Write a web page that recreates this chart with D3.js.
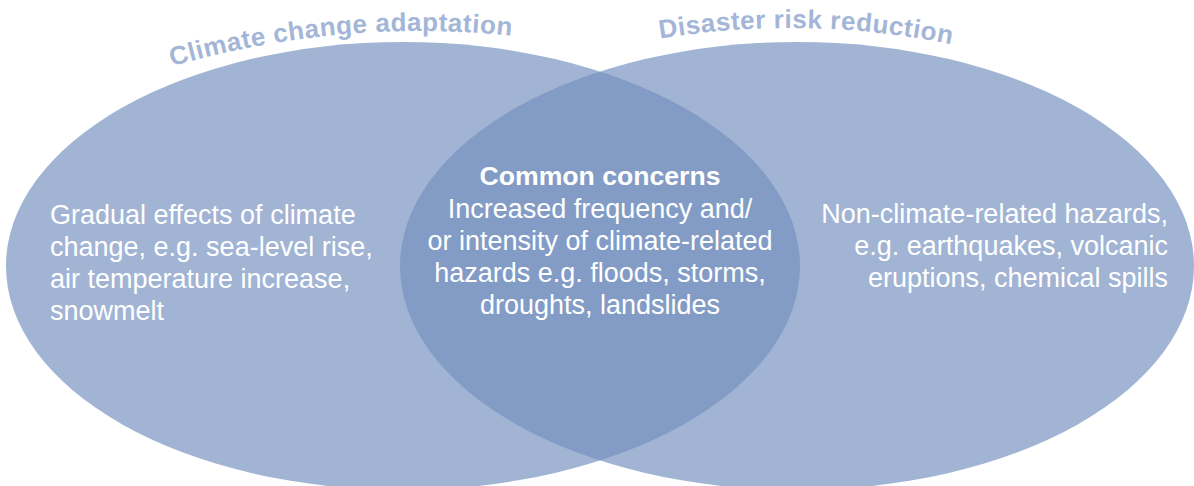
<!DOCTYPE html>
<html>
<head>
<meta charset="utf-8">
<script src="https://cdn.jsdelivr.net/npm/d3@7"></script>
<style>
  html, body { margin: 0; padding: 0; background: #fff; }
  svg { display: block; }
</style>
</head>
<body>
<script>
// sets of the venn, left to right
var setNames = ['Climate change adaptation', 'Disaster risk reduction'];
var setLines = [
    ['Gradual effects of climate', 'change, e.g. sea-level rise,', 'air temperature increase,', 'snowmelt'],
    ['Non-climate-related hazards,', 'e.g. earthquakes, volcanic', 'eruptions, chemical spills']
];
var commonTitle = 'Common concerns';
var commonLines = ['Increased frequency and/', 'or intensity of climate-related', 'hazards e.g. floods, storms,', 'droughts, landslides'];

var W = 1194, H = 486;
var font = '"Liberation Sans", Arial, Helvetica, sans-serif';

var svg = d3.select('body').append('svg')
    .attr('width', W)
    .attr('height', H);

// set index -> centre x
var x = d3.scaleLinear().domain([0, 1]).range([403, 797]);
var cy = 266, rx = 397, ry = 224;

svg.selectAll('ellipse.set')
    .data(setNames)
    .enter()
    .append('ellipse')
    .attr('class', 'set')
    .attr('cx', function(d, i){ return x(i); })
    .attr('cy', cy)
    .attr('rx', rx)
    .attr('ry', ry)
    .attr('fill', 'rgb(117,145,192)')
    .attr('fill-opacity', 0.68);

// curved titles, on flat circular arcs above each ellipse
// start: where the text begins, peak: top of the arc
var arcs = [
    {start: 172, peak: 420, top: 31, r: 886},
    {start: 660, peak: 790, top: 28, r: 800}
];
var defs = svg.append('defs');
arcs.forEach(function(a, i){
    var ccy = a.top + a.r;
    var half = 2 * (a.peak - a.start) + 200;
    var x0 = a.start, x1 = a.start + half;
    var y0 = ccy - Math.sqrt(a.r * a.r - Math.pow(a.peak - x0, 2));
    var y1 = ccy - Math.sqrt(a.r * a.r - Math.pow(x1 - a.peak, 2));
    defs.append('path')
        .attr('id', 'arc' + i)
        .attr('d', 'M' + x0 + ',' + y0 + ' A' + a.r + ',' + a.r + ' 0 0,1 ' + x1 + ',' + y1);
});

svg.selectAll('text.title')
    .data(setNames)
    .enter()
    .append('text')
    .attr('class', 'title')
    .style('font-family', font)
    .style('font-weight', 'bold')
    .style('font-size', '26px')
    .style('letter-spacing', '0.5px')
    .attr('fill', '#a3b6d7')
    .append('textPath')
    .attr('href', function(d, i){ return '#arc' + i; })
    .attr('startOffset', 0)
    .text(function(d){ return d; });

var lineH = 32;
var bodySize = '27px';

// left set text
svg.append('text')
    .style('font-family', font)
    .style('font-size', bodySize)
    .attr('fill', '#fff')
    .selectAll('tspan')
    .data(setLines[0])
    .enter()
    .append('tspan')
    .attr('x', 50)
    .attr('y', function(d, i){ return 224 + i * lineH; })
    .text(function(d){ return d; });

// right set text
svg.append('text')
    .style('font-family', font)
    .style('font-size', bodySize)
    .attr('fill', '#fff')
    .attr('text-anchor', 'end')
    .selectAll('tspan')
    .data(setLines[1])
    .enter()
    .append('tspan')
    .attr('x', 1168)
    .attr('y', function(d, i){ return 223 + i * lineH; })
    .text(function(d){ return d; });

// overlap text
var mid = (x(0) + x(1)) / 2;
svg.append('text')
    .attr('x', mid)
    .attr('y', 185)
    .attr('text-anchor', 'middle')
    .style('font-family', font)
    .style('font-size', '26.6px')
    .style('font-weight', 'bold')
    .attr('fill', '#fff')
    .text(commonTitle);

svg.append('text')
    .style('font-family', font)
    .style('font-size', bodySize)
    .attr('fill', '#fff')
    .attr('text-anchor', 'middle')
    .selectAll('tspan')
    .data(commonLines)
    .enter()
    .append('tspan')
    .attr('x', mid)
    .attr('y', function(d, i){ return 218 + i * lineH; })
    .text(function(d){ return d; });
</script>
</body>
</html>
